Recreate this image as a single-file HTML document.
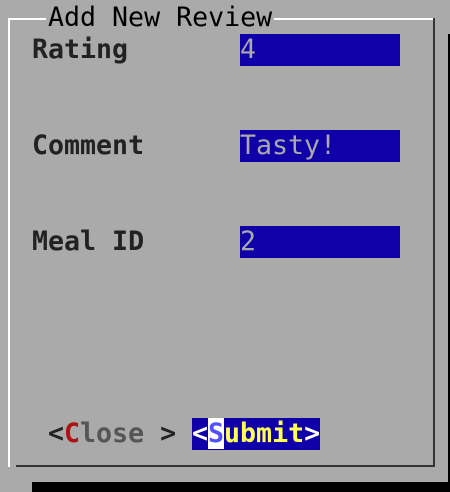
<!DOCTYPE html>
<html><head><style>
body{margin:0;width:450px;height:492px;background:#aaa;position:relative;overflow:hidden;font-family:"DejaVu Sans Mono","Liberation Mono",monospace;font-size:26.6px;}
.a{position:absolute;line-height:32px;height:32px;white-space:pre;}
.lbl{font-weight:bold;color:#222;}
.in{background:#1000a8;color:#aaa;width:160px;left:240px;}
</style></head><body>
<div style="position:absolute;left:8px;top:18px;width:2px;height:449px;background:#fff"></div>
<div style="position:absolute;left:8px;top:18px;width:427px;height:2px;background:#fff"></div>
<div style="position:absolute;left:433px;top:18px;width:2px;height:449px;background:#333"></div>
<div style="position:absolute;left:16px;top:465px;width:419px;height:2px;background:#333"></div>
<div style="position:absolute;left:32px;top:482px;width:418px;height:10px;background:#000"></div>
<div style="position:absolute;left:448px;top:34px;width:2px;height:458px;background:#000"></div>
<div class="a" style="left:48px;top:2px;background:#aaa;color:#000;padding:0 2px 0 0;left:46px;padding-left:2px">Add New Review</div>
<div class="a lbl" style="left:32px;top:34px">Rating</div>
<div class="a in" style="top:34px">4</div>
<div class="a lbl" style="left:32px;top:130px">Comment</div>
<div class="a in" style="top:130px">Tasty!</div>
<div class="a lbl" style="left:32px;top:226px">Meal ID</div>
<div class="a in" style="top:226px">2</div>
<div class="a" style="left:48px;top:418px;font-weight:bold;color:#222">&lt;<span style="color:#b01010">C</span><span style="color:#555">lose</span> &gt;</div>
<div class="a" style="left:192px;top:418px;width:128px;background:#1000a8;font-weight:bold;color:#fff">&lt;<span style="background:#fff;color:#5050ff">S</span><span style="color:#ffff55">ubmit</span>&gt;</div>
</body></html>
